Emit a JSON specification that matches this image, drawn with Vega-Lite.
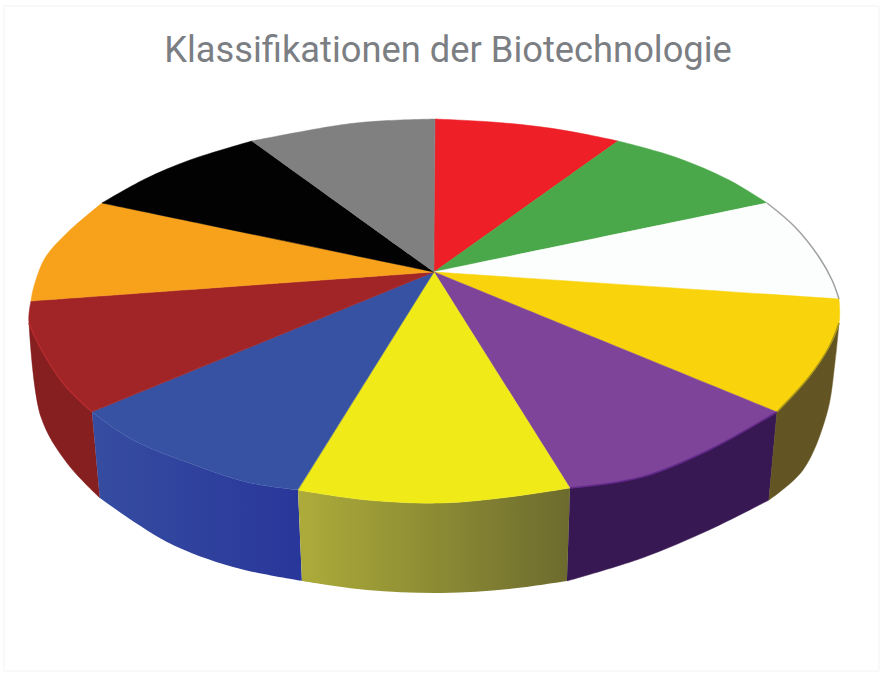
{"$schema":"https://vega.github.io/schema/vega-lite/v6.json","width":884,"height":673,"padding":0,"autosize":{"type":"none"},"background":"white","title":{"text":"Klassifikationen der Biotechnologie","font":"Roboto","fontSize":36.3,"fontWeight":"normal","color":"#7b7e83","anchor":"middle","frame":"group","baseline":"alphabetic","offset":-98,"dx":6},"view":{"stroke":null},"data":{"values":[
{"s":"card","p":"card","i":1,"u":-107.75,"v":133},{"s":"card","p":"card","i":2,"u":111,"v":133},{"s":"card","p":"card","i":3,"u":111,"v":-199.5},{"s":"card","p":"card","i":4,"u":-107.75,"v":-199.5},
{"s":"Gelb","p":"side","i":1,"u":-34.25,"v":-109},{"s":"Gelb","p":"side","i":2,"u":-34.25,"v":-109},{"s":"Gelb","p":"side","i":3,"u":-33.25,"v":-154.5},{"s":"Gelb","p":"side","i":4,"u":-33.25,"v":-154.5},{"s":"Gelb","p":"side","i":5,"u":-17,"v":-159},{"s":"Gelb","p":"side","i":6,"u":1.75,"v":-160.5},{"s":"Gelb","p":"side","i":7,"u":18.5,"v":-158.5},{"s":"Gelb","p":"side","i":8,"u":33,"v":-154.5},{"s":"Gelb","p":"side","i":9,"u":33,"v":-154.5},{"s":"Gelb","p":"side","i":10,"u":33.75,"v":-108},{"s":"Gelb","p":"side","i":11,"u":33.75,"v":-108},{"s":"Gelb","p":"side","i":12,"u":18.5,"v":-112.5},{"s":"Gelb","p":"side","i":13,"u":1.75,"v":-115.5},{"s":"Gelb","p":"side","i":14,"u":-17,"v":-114},
{"s":"Blau","p":"side","i":1,"u":-85.75,"v":-70},{"s":"Blau","p":"side","i":2,"u":-85.75,"v":-70},{"s":"Blau","p":"side","i":3,"u":-83.75,"v":-113},{"s":"Blau","p":"side","i":4,"u":-83.75,"v":-113},{"s":"Blau","p":"side","i":5,"u":-67,"v":-135},{"s":"Blau","p":"side","i":6,"u":-50.5,"v":-147.5},{"s":"Blau","p":"side","i":7,"u":-33.25,"v":-154.5},{"s":"Blau","p":"side","i":8,"u":-33.25,"v":-154.5},{"s":"Blau","p":"side","i":9,"u":-34.25,"v":-109},{"s":"Blau","p":"side","i":10,"u":-34.25,"v":-109},{"s":"Blau","p":"side","i":11,"u":-46.25,"v":-105.5},{"s":"Blau","p":"side","i":12,"u":-58.75,"v":-97.5},{"s":"Blau","p":"side","i":13,"u":-75.5,"v":-84},
{"s":"Dunkelrot","p":"side","i":1,"u":-101.5,"v":-25.5},{"s":"Dunkelrot","p":"side","i":2,"u":-101.5,"v":-25.5},{"s":"Dunkelrot","p":"side","i":3,"u":-98.5,"v":-72.5},{"s":"Dunkelrot","p":"side","i":4,"u":-92,"v":-95.5},{"s":"Dunkelrot","p":"side","i":5,"u":-83.75,"v":-113},{"s":"Dunkelrot","p":"side","i":6,"u":-83.75,"v":-113},{"s":"Dunkelrot","p":"side","i":7,"u":-85.75,"v":-70},{"s":"Dunkelrot","p":"side","i":8,"u":-85.75,"v":-70},{"s":"Dunkelrot","p":"side","i":9,"u":-93,"v":-55.5},{"s":"Dunkelrot","p":"side","i":10,"u":-98.75,"v":-37.5},
{"s":"Violett","p":"side","i":1,"u":33.75,"v":-108},{"s":"Violett","p":"side","i":2,"u":33.75,"v":-108},{"s":"Violett","p":"side","i":3,"u":33,"v":-154.5},{"s":"Violett","p":"side","i":4,"u":33,"v":-154.5},{"s":"Violett","p":"side","i":5,"u":51.75,"v":-143},{"s":"Violett","p":"side","i":6,"u":68.5,"v":-129},{"s":"Violett","p":"side","i":7,"u":83.5,"v":-114},{"s":"Violett","p":"side","i":8,"u":83.5,"v":-114},{"s":"Violett","p":"side","i":9,"u":85.5,"v":-70},{"s":"Violett","p":"side","i":10,"u":85.5,"v":-70},{"s":"Violett","p":"side","i":11,"u":68.5,"v":-89},{"s":"Violett","p":"side","i":12,"u":51.75,"v":-102.5},
{"s":"Goldgelb","p":"side","i":1,"u":85.5,"v":-70},{"s":"Goldgelb","p":"side","i":2,"u":85.5,"v":-70},{"s":"Goldgelb","p":"side","i":3,"u":83.5,"v":-114},{"s":"Goldgelb","p":"side","i":4,"u":83.5,"v":-114},{"s":"Goldgelb","p":"side","i":5,"u":92,"v":-99},{"s":"Goldgelb","p":"side","i":6,"u":98,"v":-70.5},{"s":"Goldgelb","p":"side","i":7,"u":100,"v":-45},{"s":"Goldgelb","p":"side","i":8,"u":101,"v":-25.5},{"s":"Goldgelb","p":"side","i":9,"u":101,"v":-25.5},{"s":"Goldgelb","p":"side","i":10,"u":98.5,"v":-37.5},{"s":"Goldgelb","p":"side","i":11,"u":93.5,"v":-52.5},
{"s":"Rot","p":"top","i":1,"u":-0.25,"v":0},{"s":"Rot","p":"top","i":2,"u":-0.25,"v":0},{"s":"Rot","p":"top","i":3,"u":0,"v":76.5},{"s":"Rot","p":"top","i":4,"u":0,"v":76.5},{"s":"Rot","p":"top","i":5,"u":14.25,"v":75},{"s":"Rot","p":"top","i":6,"u":26.75,"v":72.5},{"s":"Rot","p":"top","i":7,"u":36,"v":69.5},{"s":"Rot","p":"top","i":8,"u":45.75,"v":65.5},{"s":"Rot","p":"top","i":9,"u":45.75,"v":65.5},
{"s":"Grün","p":"top","i":1,"u":-0.25,"v":0},{"s":"Grün","p":"top","i":2,"u":-0.25,"v":0},{"s":"Grün","p":"top","i":3,"u":45.75,"v":65.5},{"s":"Grün","p":"top","i":4,"u":45.75,"v":65.5},{"s":"Grün","p":"top","i":5,"u":60,"v":57.5},{"s":"Grün","p":"top","i":6,"u":73.5,"v":46},{"s":"Grün","p":"top","i":7,"u":83,"v":34.5},{"s":"Grün","p":"top","i":8,"u":83,"v":34.5},
{"s":"Weiß","p":"top","i":1,"u":-0.25,"v":0},{"s":"Weiß","p":"top","i":2,"u":-0.25,"v":0},{"s":"Weiß","p":"top","i":3,"u":83,"v":34.5},{"s":"Weiß","p":"top","i":4,"u":83,"v":34.5},{"s":"Weiß","p":"top","i":5,"u":90,"v":22.5},{"s":"Weiß","p":"top","i":6,"u":96,"v":7.5},{"s":"Weiß","p":"top","i":7,"u":99.25,"v":-4},{"s":"Weiß","p":"top","i":8,"u":101,"v":-13.5},{"s":"Weiß","p":"top","i":9,"u":101,"v":-13.5},
{"s":"Goldgelb","p":"top","i":1,"u":-0.25,"v":0},{"s":"Goldgelb","p":"top","i":2,"u":-0.25,"v":0},{"s":"Goldgelb","p":"top","i":3,"u":101,"v":-13.5},{"s":"Goldgelb","p":"top","i":4,"u":101,"v":-13.5},{"s":"Goldgelb","p":"top","i":5,"u":101,"v":-25.5},{"s":"Goldgelb","p":"top","i":6,"u":98.5,"v":-37.5},{"s":"Goldgelb","p":"top","i":7,"u":93.5,"v":-52.5},{"s":"Goldgelb","p":"top","i":8,"u":85.5,"v":-70},{"s":"Goldgelb","p":"top","i":9,"u":85.5,"v":-70},
{"s":"Violett","p":"top","i":1,"u":-0.25,"v":0},{"s":"Violett","p":"top","i":2,"u":-0.25,"v":0},{"s":"Violett","p":"top","i":3,"u":85.5,"v":-70},{"s":"Violett","p":"top","i":4,"u":85.5,"v":-70},{"s":"Violett","p":"top","i":5,"u":68.5,"v":-89},{"s":"Violett","p":"top","i":6,"u":51.75,"v":-102.5},{"s":"Violett","p":"top","i":7,"u":33.75,"v":-108},{"s":"Violett","p":"top","i":8,"u":33.75,"v":-108},
{"s":"Gelb","p":"top","i":1,"u":-0.25,"v":0},{"s":"Gelb","p":"top","i":2,"u":-0.25,"v":0},{"s":"Gelb","p":"top","i":3,"u":33.75,"v":-108},{"s":"Gelb","p":"top","i":4,"u":33.75,"v":-108},{"s":"Gelb","p":"top","i":5,"u":18.5,"v":-112.5},{"s":"Gelb","p":"top","i":6,"u":1.75,"v":-115.5},{"s":"Gelb","p":"top","i":7,"u":-17,"v":-114},{"s":"Gelb","p":"top","i":8,"u":-34.25,"v":-109},{"s":"Gelb","p":"top","i":9,"u":-34.25,"v":-109},
{"s":"Blau","p":"top","i":1,"u":-0.25,"v":0},{"s":"Blau","p":"top","i":2,"u":-0.25,"v":0},{"s":"Blau","p":"top","i":3,"u":-34.25,"v":-109},{"s":"Blau","p":"top","i":4,"u":-34.25,"v":-109},{"s":"Blau","p":"top","i":5,"u":-46.25,"v":-105.5},{"s":"Blau","p":"top","i":6,"u":-58.75,"v":-97.5},{"s":"Blau","p":"top","i":7,"u":-75.5,"v":-84},{"s":"Blau","p":"top","i":8,"u":-85.75,"v":-70},{"s":"Blau","p":"top","i":9,"u":-85.75,"v":-70},
{"s":"Dunkelrot","p":"top","i":1,"u":-0.25,"v":0},{"s":"Dunkelrot","p":"top","i":2,"u":-0.25,"v":0},{"s":"Dunkelrot","p":"top","i":3,"u":-85.75,"v":-70},{"s":"Dunkelrot","p":"top","i":4,"u":-85.75,"v":-70},{"s":"Dunkelrot","p":"top","i":5,"u":-93,"v":-55.5},{"s":"Dunkelrot","p":"top","i":6,"u":-98.75,"v":-37.5},{"s":"Dunkelrot","p":"top","i":7,"u":-101.5,"v":-25.5},{"s":"Dunkelrot","p":"top","i":8,"u":-101,"v":-14.5},{"s":"Dunkelrot","p":"top","i":9,"u":-101,"v":-14.5},
{"s":"Orange","p":"top","i":1,"u":-0.25,"v":0},{"s":"Orange","p":"top","i":2,"u":-0.25,"v":0},{"s":"Orange","p":"top","i":3,"u":-101,"v":-14.5},{"s":"Orange","p":"top","i":4,"u":-101,"v":-14.5},{"s":"Orange","p":"top","i":5,"u":-100.5,"v":-9},{"s":"Orange","p":"top","i":6,"u":-97.5,"v":7},{"s":"Orange","p":"top","i":7,"u":-91.75,"v":20},{"s":"Orange","p":"top","i":8,"u":-83.25,"v":34.5},{"s":"Orange","p":"top","i":9,"u":-83.25,"v":34.5},
{"s":"Schwarz","p":"top","i":1,"u":-0.25,"v":0},{"s":"Schwarz","p":"top","i":2,"u":-0.25,"v":0},{"s":"Schwarz","p":"top","i":3,"u":-83.25,"v":34.5},{"s":"Schwarz","p":"top","i":4,"u":-83.25,"v":34.5},{"s":"Schwarz","p":"top","i":5,"u":-72.5,"v":46.5},{"s":"Schwarz","p":"top","i":6,"u":-61.25,"v":56},{"s":"Schwarz","p":"top","i":7,"u":-45.75,"v":65.5},{"s":"Schwarz","p":"top","i":8,"u":-45.75,"v":65.5},
{"s":"Grau","p":"top","i":1,"u":-0.25,"v":0},{"s":"Grau","p":"top","i":2,"u":-0.25,"v":0},{"s":"Grau","p":"top","i":3,"u":-45.75,"v":65.5},{"s":"Grau","p":"top","i":4,"u":-45.75,"v":65.5},{"s":"Grau","p":"top","i":5,"u":-23.75,"v":73.5},{"s":"Grau","p":"top","i":6,"u":-13.75,"v":75.5},{"s":"Grau","p":"top","i":7,"u":0,"v":76.5},{"s":"Grau","p":"top","i":8,"u":0,"v":76.5},
{"s":"Dunkelrot","p":"rim","i":1,"u":-85.75,"v":-70},{"s":"Dunkelrot","p":"rim","i":2,"u":-93,"v":-55.5},{"s":"Dunkelrot","p":"rim","i":3,"u":-98.75,"v":-37.5},{"s":"Dunkelrot","p":"rim","i":4,"u":-101.5,"v":-25.5},
{"s":"Violett","p":"rim","i":1,"u":85.5,"v":-70},{"s":"Violett","p":"rim","i":2,"u":68.5,"v":-89},{"s":"Violett","p":"rim","i":3,"u":51.75,"v":-102.5},{"s":"Violett","p":"rim","i":4,"u":33.75,"v":-108},
{"s":"Goldgelb","p":"rim","i":1,"u":101,"v":-25.5},{"s":"Goldgelb","p":"rim","i":2,"u":98.5,"v":-37.5},{"s":"Goldgelb","p":"rim","i":3,"u":93.5,"v":-52.5},{"s":"Goldgelb","p":"rim","i":4,"u":85.5,"v":-70},
{"s":"Weiß","p":"rim","i":1,"u":83,"v":34.5},{"s":"Weiß","p":"rim","i":2,"u":90,"v":22.5},{"s":"Weiß","p":"rim","i":3,"u":96,"v":7.5},{"s":"Weiß","p":"rim","i":4,"u":99.25,"v":-4},{"s":"Weiß","p":"rim","i":5,"u":101,"v":-13.5}
]},
"encoding":{"x":{"field":"u","type":"quantitative","axis":null,"scale":{"domain":[-108.75,112.25],"nice":false,"zero":false}},"y":{"field":"v","type":"quantitative","axis":null,"scale":{"domain":[-200.5,136],"nice":false,"zero":false}},"order":{"field":"i","type":"quantitative"}},
"layer":[
{"transform":[{"filter":"datum.p==='card'"}],"mark":{"type":"line","interpolate":"linear-closed","stroke":"#f3f3f3","strokeWidth":1}},
{"transform":[{"filter":"datum.p==='side' && datum.s!=='Gelb' && datum.s!=='Blau'"}],"mark":{"type":"line","filled":true,"interpolate":"catmull-rom-closed","strokeWidth":0.5},"encoding":{"color":{"field":"s","type":"nominal","legend":null,"scale":{"domain":["Dunkelrot","Violett","Goldgelb"],"range":["#861f1f","#381853","#635423"]}},"stroke":{"field":"s","type":"nominal","legend":null,"scale":{"domain":["Dunkelrot","Violett","Goldgelb"],"range":["#861f1f","#381853","#635423"]}}}},
{"transform":[{"filter":"datum.p==='side' && datum.s==='Blau'"}],"mark":{"type":"line","filled":true,"interpolate":"catmull-rom-closed","strokeWidth":0,"fill":{"gradient":"linear","x1":0,"x2":1,"y1":0,"y2":0,"stops":[{"offset":0,"color":"#364da1"},{"offset":1,"color":"#29369a"}]}}},
{"transform":[{"filter":"datum.p==='side' && datum.s==='Gelb'"}],"mark":{"type":"line","filled":true,"interpolate":"catmull-rom-closed","strokeWidth":0,"fill":{"gradient":"linear","x1":0,"x2":1,"y1":0,"y2":0,"stops":[{"offset":0,"color":"#adac3a"},{"offset":1,"color":"#6c6b2e"}]}}},
{"transform":[{"filter":"datum.p==='top'"}],"mark":{"type":"line","filled":true,"interpolate":"catmull-rom-closed","strokeWidth":0.5},"encoding":{"color":{"field":"s","type":"nominal","legend":null,"scale":{"domain":["Rot","Grün","Weiß","Goldgelb","Violett","Gelb","Blau","Dunkelrot","Orange","Schwarz","Grau"],"range":["#ee1f26","#4ba84a","#fcfdfd","#f9d30b","#7d4499","#f0ea18","#3752a3","#a12527","#f8a11b","#020202","#808080"]}},"stroke":{"field":"s","type":"nominal","legend":null,"scale":{"domain":["Rot","Grün","Weiß","Goldgelb","Violett","Gelb","Blau","Dunkelrot","Orange","Schwarz","Grau"],"range":["#ee1f26","#4ba84a","#fcfdfd","#f9d30b","#7d4499","#f0ea18","#3752a3","#a12527","#f8a11b","#020202","#808080"]}}}},
{"transform":[{"filter":"datum.p==='rim'"}],"mark":{"type":"line","interpolate":"catmull-rom","strokeWidth":1.5},"encoding":{"stroke":{"field":"s","type":"nominal","legend":null,"scale":{"domain":["Dunkelrot","Violett","Goldgelb","Weiß"],"range":["#b52b2e","#62288a","#a8951a","#a0a0a0"]}}}}
],
"resolve":{"scale":{"color":"independent","stroke":"independent"}}}
